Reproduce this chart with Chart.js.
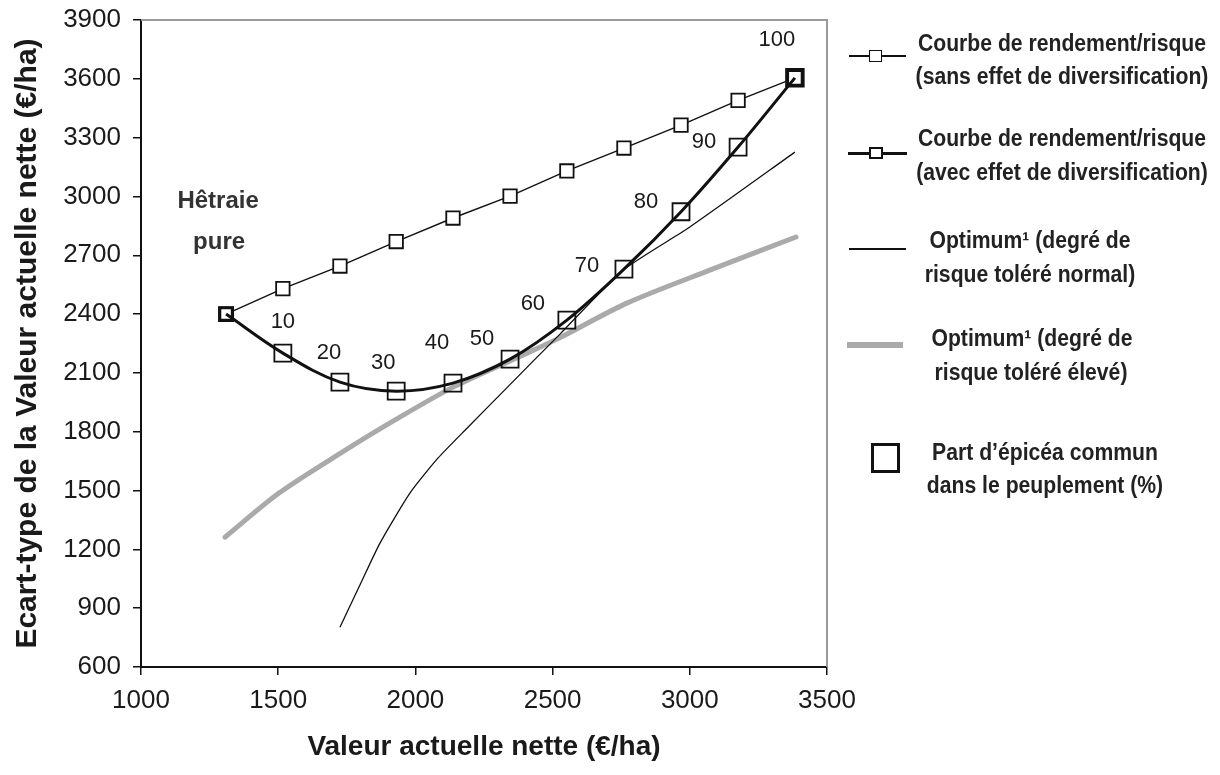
<!DOCTYPE html>
<html>
<head>
<meta charset="utf-8">
<script src="https://cdn.jsdelivr.net/npm/chart.js@4.4.0/dist/chart.umd.min.js"></script>
<style>
html, body { margin: 0; padding: 0; background: #fff; }
#wrap { position: relative; width: 1220px; height: 775px; }
#chart { position: absolute; left: 0; top: 0; }
.lg { position: absolute; font-family: "Liberation Sans", Arial, sans-serif; font-weight: bold; font-size: 23px;
      color: #222; white-space: nowrap; line-height: 24px; transform: translateX(-50%) scaleX(.92); }
.sym { position: absolute; box-sizing: border-box; }
</style>
</head>
<body>
<div id="wrap">
  <canvas id="chart" width="1220" height="775"></canvas>

  <div class="sym" style="left:849px;top:55px;width:57px;height:1.5px;background:#111"></div>
  <div class="sym" style="left:869px;top:50px;width:13px;height:12px;border:1.8px solid #111;background:#fff"></div>
  <div class="lg" style="left:1062px;top:31px">Courbe de rendement/risque</div>
  <div class="lg" style="left:1062px;top:64px">(sans effet de diversification)</div>

  <div class="sym" style="left:848px;top:152px;width:59px;height:3px;background:#111"></div>
  <div class="sym" style="left:869px;top:147px;width:14px;height:12px;border:2px solid #111;background:#fff"></div>
  <div class="lg" style="left:1062px;top:126px">Courbe de rendement/risque</div>
  <div class="lg" style="left:1062px;top:160px">(avec effet de diversification)</div>

  <div class="sym" style="left:849px;top:248px;width:57px;height:1.5px;background:#111"></div>
  <div class="lg" style="left:1030px;top:228px">Optimum¹ (degré de</div>
  <div class="lg" style="left:1030px;top:262px">risque toléré normal)</div>

  <div class="sym" style="left:847px;top:342px;width:56px;height:6px;background:#aaa"></div>
  <div class="lg" style="left:1032px;top:326px">Optimum¹ (degré de</div>
  <div class="lg" style="left:1031px;top:360px">risque toléré élevé)</div>

  <div class="sym" style="left:871px;top:443px;width:29px;height:30px;border:3px solid #111;background:#fff"></div>
  <div class="lg" style="left:1045px;top:440px">Part d’épicéa commun</div>
  <div class="lg" style="left:1045px;top:473px">dans le peuplement (%)</div>
</div>

<script>
// part d'épicéa commun (%) et valeurs
var share = [0, 10, 20, 30, 40, 50, 60, 70, 80, 90, 100];
var vanX = [1310, 1517, 1725, 1930, 2137, 2345, 2552, 2760, 2968, 3176, 3383];
var sdSans = [2400, 2530, 2645, 2770, 2890, 3002, 3130, 3247, 3364, 3490, 3605];
var sdAvec = [2400, 2201, 2053, 2007, 2048, 2170, 2369, 2629, 2922, 3252, 3605];

var optNormalX = [1725, 1800, 1871, 1980, 2082, 2188, 2334, 2429, 2527, 2757, 3000, 3383];
var optNormalY = [803, 1025, 1232, 1487, 1665, 1818, 2025, 2160, 2298, 2624, 2844, 3226];

var optEleveX = [1306, 1503, 1729, 1926, 2141, 2407, 2527, 2771, 3080, 3387];
var optEleveY = [1262, 1487, 1692, 1860, 2030, 2201, 2280, 2456, 2628, 2793];

var xTicks = [1000, 1500, 2000, 2500, 3000, 3500];
var yTicks = [600, 900, 1200, 1500, 1800, 2100, 2400, 2700, 3000, 3300, 3600, 3900];

function pts(xs, ys) {
    return xs.map(function (x, i) { return { x: x, y: ys[i] }; });
}

// décalage des étiquettes de pourcentage par rapport au point
var labelOffsets = [[0, 0], [0, -31], [-11, -29], [-13, -28], [-16, -40], [-28, -20],
    [-34, -16], [-37, -3], [-35, -10], [-34, -5], [-18, -38]];

var FONT = '"Liberation Sans", Arial, sans-serif';

var annotations = {
    id: 'annotations',
    beforeDatasetsDraw: function (chart) {
        var a = chart.chartArea, c = chart.ctx;
        c.save();
        c.strokeStyle = '#9a9a9a';
        c.lineWidth = 2;
        c.beginPath();
        c.moveTo(a.left, a.top);
        c.lineTo(a.right, a.top);
        c.lineTo(a.right, a.bottom);
        c.stroke();
        c.restore();
    },
    afterDatasetsDraw: function (chart) {
        var c = chart.ctx;
        var data = chart.getDatasetMeta(0).data;
        c.save();
        c.fillStyle = '#1a1a1a';
        c.textAlign = 'center';
        c.textBaseline = 'middle';
        c.font = '22px ' + FONT;
        share.forEach(function (s, i) {
            if (!s) return;
            var p = data[i];
            c.fillText(String(s), p.x + labelOffsets[i][0], p.y + labelOffsets[i][1]);
        });
        c.fillStyle = '#333';
        c.font = 'bold 24px ' + FONT;
        c.fillText('Hêtraie', data[0].x - 8, data[0].y - 113);
        c.fillText('pure', data[0].x - 7, data[0].y - 72);
        c.restore();
    }
};

var avecRadius = share.map(function (s) { return s === 0 ? 9 : (s === 100 ? 11.5 : 12); });
var avecBorder = share.map(function (s) { return (s === 0 || s === 100) ? 3.2 : 1.8; });

function plain(v) { return String(v); }

new Chart(document.getElementById('chart'), {
    type: 'scatter',
    data: {
        datasets: [{
            label: 'Courbe de rendement/risque (avec effet de diversification)',
            data: pts(vanX, sdAvec),
            showLine: true,
            borderColor: '#111',
            borderWidth: 3,
            tension: 0.35,
            pointStyle: 'rect',
            pointRadius: avecRadius,
            pointBorderWidth: avecBorder,
            pointBorderColor: '#111',
            pointBackgroundColor: 'rgba(255,255,255,0)'
        }, {
            label: 'Courbe de rendement/risque (sans effet de diversification)',
            data: pts(vanX, sdSans),
            showLine: true,
            borderColor: '#111',
            borderWidth: 1.4,
            tension: 0,
            pointStyle: 'rect',
            pointRadius: 9.5,
            pointBorderWidth: 1.8,
            pointBorderColor: '#111',
            pointBackgroundColor: '#fff'
        }, {
            label: 'Optimum (degré de risque toléré normal)',
            data: pts(optNormalX, optNormalY),
            showLine: true,
            borderColor: '#111',
            borderWidth: 1.3,
            tension: 0.2,
            pointRadius: 0
        }, {
            label: 'Optimum (degré de risque toléré élevé)',
            data: pts(optEleveX, optEleveY),
            showLine: true,
            borderColor: '#aaa',
            borderWidth: 5,
            borderCapStyle: 'round',
            tension: 0.3,
            pointRadius: 0
        }]
    },
    options: {
        responsive: false,
        animation: false,
        events: [],
        layout: { padding: { top: 20, right: 393, left: 0, bottom: 0 } },
        plugins: { legend: { display: false }, tooltip: { enabled: false } },
        scales: {
            x: {
                type: 'linear',
                min: 1000, max: 3500,
                afterBuildTicks: function (s) { s.ticks = xTicks.map(function (v) { return { value: v }; }); },
                afterFit: function (s) { s.height = 108; s.paddingLeft = 0; s.paddingRight = 0; },
                ticks: { font: { size: 26, family: FONT }, color: '#1a1a1a', padding: 10, maxRotation: 0, callback: plain },
                grid: { drawOnChartArea: false, drawTicks: true, tickLength: 8, color: '#111', lineWidth: 1.5 },
                border: { display: true, color: '#111', width: 2 },
                title: { display: true, text: 'Valeur actuelle nette (€/ha)', color: '#1a1a1a',
                         font: { size: 28, weight: 'bold', family: FONT }, padding: { top: 0, bottom: 11 } }
            },
            y: {
                type: 'linear',
                min: 600, max: 3900,
                afterBuildTicks: function (s) { s.ticks = yTicks.map(function (v) { return { value: v }; }); },
                afterFit: function (s) { s.width = 141; s.paddingTop = 0; s.paddingBottom = 0; },
                ticks: { font: { size: 26, family: FONT }, color: '#1a1a1a', padding: 12, callback: plain },
                grid: { drawOnChartArea: false, drawTicks: true, tickLength: 8, color: '#111', lineWidth: 1.5 },
                border: { display: true, color: '#111', width: 2 },
                title: { display: true, text: 'Ecart-type de la Valeur actuelle nette (€/ha)', color: '#1a1a1a',
                         font: { size: 30, weight: 'bold', family: FONT }, padding: { top: 10, bottom: 0 } }
            }
        }
    },
    plugins: [annotations]
});
</script>
</body>
</html>
